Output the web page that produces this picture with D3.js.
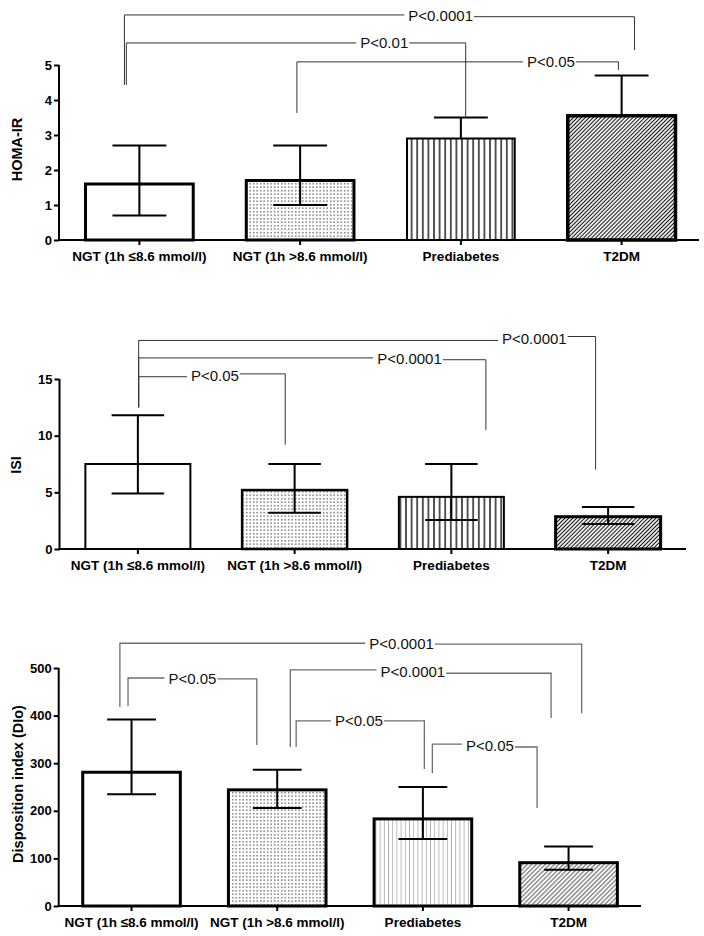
<!DOCTYPE html>
<html>
<head>
<meta charset="utf-8">
<script src="https://cdn.jsdelivr.net/npm/d3@7"></script>
<style>
  html, body { margin: 0; padding: 0; background: #fff; }
  svg { display: block; }
  text { font-family: "Liberation Sans", Arial, sans-serif; }
</style>
</head>
<body>
<svg id="chart" width="704" height="936"></svg>
<script>
// ---------- data ----------
const categories = ["NGT (1h \u22648.6 mmol/l)", "NGT (1h >8.6 mmol/l)", "Prediabetes", "T2DM"];

const homaMean  = [1.6, 1.7, 2.9, 3.55];
const homaUpper = [2.7, 2.7, 3.5, 4.7];
const homaLower = [0.7, 1.0, null, null];
const homaTicks = [0, 1, 2, 3, 4, 5];

const isiMean  = [7.5, 5.2, 4.6, 2.85];
const isiUpper = [11.8, 7.5, 7.5, 3.7];
const isiLower = [4.9, 3.2, 2.55, 2.2];
const isiTicks = [0, 5, 10, 15];

const diMean  = [281, 244, 183, 91];
const diUpper = [392, 286, 250, 125];
const diLower = [235, 206, 141, 76];
const diTicks = [0, 100, 200, 300, 400, 500];

// significance brackets: [label, left category pos, right category pos, line value left, line value right, left leg end, right leg end, text position fraction]
const homaBrackets = [
  ["P<0.0001", -0.093, 3.08, 6.43, 6.38, 4.43, 5.43, 0.62],
  ["P<0.01",   -0.081, 2.03, 5.63, 5.63, 4.43, 3.49, 0.76],
  ["P<0.05",    0.98,  2.98, 5.09, 5.09, 3.63, 4.86, 0.79]
];
const isiBrackets = [
  ["P<0.0001", 0.005, 2.92, 18.4, 18.75, 12.5, 7.0, 0.866],
  ["P<0.0001", 0.005, 2.22, 16.86, 16.7, 12.5, 10.5, 0.78],
  ["P<0.05",   0.005, 0.94, 15.2, 15.45, 12.5, 9.2, 0.52]
];
const diBrackets = [
  ["P<0.0001", -0.08, 3.09, 552, 550, 418, 405, 0.61],
  ["P<0.05",  -0.024, 0.86, 479, 477, 420, 338, 0.5],
  ["P<0.0001", 1.09, 2.88, 496, 489, 334, 395, 0.47],
  ["P<0.05",   1.13, 2.01, 389, 389, 334, 288, 0.49],
  ["P<0.05",   2.065, 2.784, 340, 334, 279, 206, 0.55]
];

// ---------- drawing ----------
const svg = d3.select("#chart");
const defs = svg.append("defs");

function dotPattern(id, color) {
  const p = defs.append("pattern").attr("id", id).attr("patternUnits", "userSpaceOnUse")
    .attr("width", 3.5).attr("height", 3.5);
  p.append("rect").attr("width", 3.5).attr("height", 3.5).attr("fill", "#fff");
  p.append("rect").attr("x", 1.1).attr("y", 1.1).attr("width", 1.2).attr("height", 1.2).attr("fill", color);
}
function vLinePattern(id, spacing, color, w) {
  const p = defs.append("pattern").attr("id", id).attr("patternUnits", "userSpaceOnUse")
    .attr("width", spacing).attr("height", 10);
  p.append("rect").attr("width", spacing).attr("height", 10).attr("fill", "#fff");
  p.append("line").attr("x1", spacing / 2).attr("x2", spacing / 2).attr("y1", 0).attr("y2", 10)
    .attr("stroke", color).attr("stroke-width", w);
}
function diagPattern(id, spacing, color, w) {
  const p = defs.append("pattern").attr("id", id).attr("patternUnits", "userSpaceOnUse")
    .attr("width", spacing).attr("height", spacing).attr("patternTransform", "rotate(45)");
  p.append("rect").attr("width", spacing).attr("height", spacing).attr("fill", "#fff");
  p.append("line").attr("x1", spacing / 2).attr("x2", spacing / 2).attr("y1", 0).attr("y2", spacing)
    .attr("stroke", color).attr("stroke-width", w);
}
dotPattern("dots", "#222");
vLinePattern("vlines", 5.6, "#000", 1.3);
diagPattern("diag", 2.8, "#111", 1.1);
vLinePattern("vlinesLight", 4.2, "#b0b0b0", 0.9);
diagPattern("diagGrey", 3.2, "#555", 1.0);

function drawChart(cfg) {
  const g = svg.append("g");
  const x = d3.scaleBand().domain(categories).range([cfg.x0, cfg.x1]).paddingInner(0.33).paddingOuter(0.165);
  const y = d3.scaleLinear().domain([0, cfg.yMax]).range([cfg.yBottom, cfg.yTop]);
  const pos = d3.scaleLinear().domain([0, 3])
    .range([x(categories[0]) + x.bandwidth() / 2, x(categories[3]) + x.bandwidth() / 2]);
  const bw = x.bandwidth();

  // bars + error bars
  categories.forEach((c, i) => {
    const cx = x(c) + bw / 2;
    const hidden = cfg.lower[i] === null;
    const drawErr = (lowVal) => {
      g.append("line").attr("x1", cx).attr("x2", cx)
        .attr("y1", y(cfg.upper[i])).attr("y2", y(lowVal))
        .attr("stroke", "#000").attr("stroke-width", 2);
      g.append("line").attr("x1", cx - bw * 0.25).attr("x2", cx + bw * 0.25)
        .attr("y1", y(cfg.upper[i])).attr("y2", y(cfg.upper[i]))
        .attr("stroke", "#000").attr("stroke-width", 2);
    };
    if (hidden) drawErr(cfg.mean[i]);
    g.append("rect")
      .attr("x", x(c)).attr("y", y(cfg.mean[i]))
      .attr("width", bw).attr("height", y(0) - y(cfg.mean[i]))
      .attr("fill", cfg.fills[i]).attr("stroke", "#000").attr("stroke-width", cfg.barStroke[i]);
    if (!hidden) {
      drawErr(cfg.lower[i]);
      g.append("line").attr("x1", cx - bw * 0.25).attr("x2", cx + bw * 0.25)
        .attr("y1", y(cfg.lower[i])).attr("y2", y(cfg.lower[i]))
        .attr("stroke", "#000").attr("stroke-width", 2);
    }
  });

  // y axis
  const yAxis = d3.axisLeft(y).tickValues(cfg.ticks).tickFormat(d3.format("d"))
    .tickSize(5).tickPadding(2).tickSizeOuter(0);
  const ya = g.append("g").attr("transform", `translate(${cfg.x0},0)`).call(yAxis);
  ya.select(".domain").attr("stroke", "#000").attr("stroke-width", 2).attr("d", `M0,${cfg.yTop}V${cfg.yBottom}`);
  ya.selectAll(".tick line").attr("stroke-width", 2);
  ya.selectAll(".tick text").attr("font-size", 13).attr("font-weight", "bold")
    .attr("font-family", "'Liberation Sans', Arial, sans-serif").attr("fill", "#000");

  // x axis
  const xAxis = d3.axisBottom(x).tickSize(5).tickPadding(6).tickSizeOuter(0);
  const xa = g.append("g").attr("transform", `translate(0,${cfg.yBottom})`).call(xAxis);
  xa.select(".domain").attr("stroke", "#000").attr("stroke-width", 2).attr("d", `M${cfg.x0 - 1},0H${cfg.xEnd}`);
  xa.selectAll(".tick line").attr("stroke-width", 2);
  xa.selectAll(".tick text").attr("font-size", 13.5).attr("font-weight", "bold")
    .attr("font-family", "'Liberation Sans', Arial, sans-serif").attr("fill", "#000");

  // y title
  g.append("text")
    .attr("transform", `translate(${cfg.titleX},${(cfg.yTop + cfg.yBottom) / 2 + cfg.titleDy}) rotate(-90)`)
    .attr("text-anchor", "middle").attr("dominant-baseline", "central")
    .attr("font-size", 14.5).attr("font-weight", "bold").text(cfg.title);

  // brackets
  cfg.brackets.forEach(b => {
    const [label, l, r, vL, vR, endL, endR, frac] = b;
    const xl = pos(l), xr = pos(r);
    const yl = y(vL), yr = y(vR);
    const tx = xl + (xr - xl) * frac;
    const t = g.append("text").attr("x", tx).attr("y", (yl + yr) / 2)
      .attr("text-anchor", "middle").attr("dominant-baseline", "central")
      .attr("font-size", 15).attr("fill", "#111").text(label);
    const tw = t.node().getComputedTextLength();
    const gap = 4;
    const bs = { stroke: cfg.bracketColor, "stroke-width": cfg.bracketWidth, fill: "none" };
    const path = (d) => { const p = g.append("path").attr("d", d); Object.entries(bs).forEach(([k, v]) => p.attr(k, v)); };
    path(`M${xl},${y(endL)}V${yl}H${tx - tw / 2 - gap}`);
    path(`M${tx + tw / 2 + 1},${yr}H${xr}V${y(endR)}`);
  });
}

drawChart({
  x0: 59, x1: 702, xEnd: 699, yTop: 65, yBottom: 240, yMax: 5, ticks: homaTicks,
  mean: homaMean, upper: homaUpper, lower: homaLower,
  fills: ["#fff", "url(#dots)", "url(#vlines)", "url(#diag)"],
  barStroke: [3, 3, 2, 3.5],
  title: "HOMA-IR", titleX: 17, titleDy: -3,
  brackets: homaBrackets, bracketColor: "#333", bracketWidth: 1
});

drawChart({
  x0: 59.5, x1: 686.5, xEnd: 686, yTop: 379, yBottom: 549, yMax: 15, ticks: isiTicks,
  mean: isiMean, upper: isiUpper, lower: isiLower,
  fills: ["#fff", "url(#dots)", "url(#vlines)", "url(#diag)"],
  barStroke: [2, 2.5, 2, 3],
  title: "ISI", titleX: 16, titleDy: 1,
  brackets: isiBrackets, bracketColor: "#333", bracketWidth: 1
});

drawChart({
  x0: 58.7, x1: 641.4, xEnd: 641, yTop: 668, yBottom: 906, yMax: 500, ticks: diTicks,
  mean: diMean, upper: diUpper, lower: diLower,
  fills: ["#fff", "url(#dots)", "url(#vlinesLight)", "url(#diagGrey)"],
  barStroke: [3, 3, 3, 3],
  title: "Disposition index (DIo)", titleX: 18, titleDy: -3,
  brackets: diBrackets, bracketColor: "#6e6e6e", bracketWidth: 1.3
});
</script>
</body>
</html>
